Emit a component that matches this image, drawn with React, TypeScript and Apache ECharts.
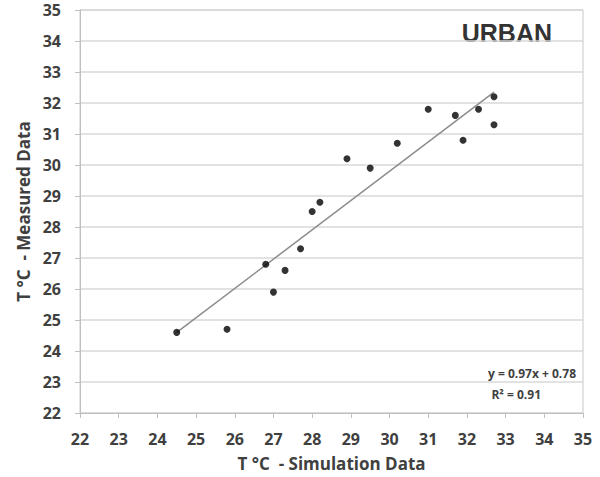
import React, { useEffect, useRef } from "react";
import * as echarts from "echarts";

const simulated = [24.5, 25.8, 26.8, 27.0, 27.3, 27.7, 28.0, 28.2, 28.9, 29.5, 30.2, 31.0, 31.7, 31.9, 32.3, 32.7, 32.7];
const measured = [24.6, 24.7, 26.8, 25.9, 26.6, 27.3, 28.5, 28.8, 30.2, 29.9, 30.7, 31.8, 31.6, 30.8, 31.8, 32.2, 31.3];
const trendX = [24.5, 32.7];
const trendY = [24.6, 32.35];
const axisMin = 22;
const axisMax = 35;
const title = "URBAN";
const equation = "y = 0.97x + 0.78";
const rSquared = "R² = 0.91";
const xName = "T °C  - Simulation Data";
const yName = "T °C  - Measured Data";

export default function App() {
  const ref = useRef<HTMLDivElement>(null);
  useEffect(() => {
    document.body.style.margin = "0";
    const chart = echarts.init(ref.current!, null, { renderer: "svg" });
    const font = "'Open Sans', 'Liberation Sans', sans-serif";
    const axisLabel = { fontFamily: font, fontWeight: "bold", fontSize: 16, color: "#404040" };
    chart.setOption({
      animation: false,
      backgroundColor: "#ffffff",
      grid: {
        left: 80,
        top: 10,
        right: 17,
        bottom: 64,
        show: true,
        borderColor: "#c8c8c8",
        borderWidth: 1,
        outerBoundsMode: "none",
        containLabel: false,
      },
      xAxis: {
        type: "value",
        min: axisMin,
        max: axisMax,
        interval: 1,
        name: xName,
        nameLocation: "middle",
        nameGap: 42,
        nameTextStyle: { fontFamily: font, fontWeight: "bold", fontSize: 17, color: "#404040" },
        axisLine: { show: true, lineStyle: { color: "#bfbfbf" } },
        axisTick: { show: true, length: 5, lineStyle: { color: "#bfbfbf" } },
        axisLabel: { ...axisLabel, margin: 18 },
        splitLine: { show: false },
      },
      yAxis: {
        type: "value",
        min: axisMin,
        max: axisMax,
        interval: 1,
        name: yName,
        nameLocation: "middle",
        nameGap: 46,
        nameTextStyle: { fontFamily: font, fontWeight: "bold", fontSize: 17, color: "#404040" },
        axisLine: { show: true, lineStyle: { color: "#bfbfbf" } },
        axisTick: { show: true, length: 5, lineStyle: { color: "#bfbfbf" } },
        axisLabel: { ...axisLabel, margin: 19 },
        splitLine: { show: true, lineStyle: { color: "#d9d9d9", width: 1.5 } },
      },
      series: [
        {
          type: "line",
          data: trendX.map((x, i) => [x, trendY[i]]),
          symbol: "none",
          lineStyle: { color: "#8c8c8c", width: 1.5 },
          z: 2,
        },
        {
          type: "scatter",
          data: simulated.map((x, i) => [x, measured[i]]),
          symbol: "circle",
          symbolSize: 7,
          itemStyle: { color: "#000000" },
          z: 3,
        },
      ],
      graphic: [
        {
          type: "text",
          right: 48,
          top: 20,
          style: { text: title, fontFamily: "'Liberation Sans', Arial, sans-serif", fontWeight: "bold", fontSize: 25, fill: "#333333" },
        },
        {
          type: "text",
          right: 24,
          top: 367,
          style: { text: equation, fontFamily: font, fontWeight: "bold", fontSize: 12, fill: "#404040" },
        },
        {
          type: "text",
          right: 59,
          top: 388,
          style: { text: rSquared, fontFamily: font, fontWeight: "bold", fontSize: 12, fill: "#404040" },
        },
      ],
    });
    return () => chart.dispose();
  }, []);
  return <div ref={ref} style={{ width: 600, height: 477 }} />;
}
